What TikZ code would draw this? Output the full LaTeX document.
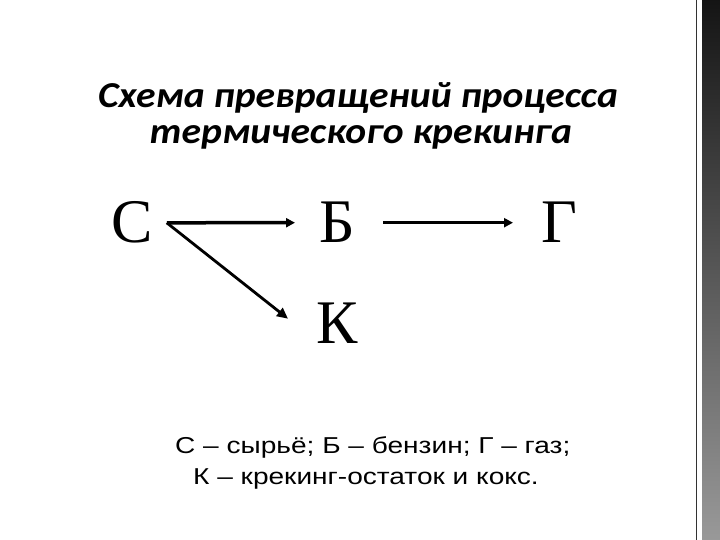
\documentclass[tikz,border=0pt]{standalone}
\usepackage{fontspec}
\setmainfont{Liberation Serif}
\newfontfamily\titlefont{Carlito}
\newfontfamily\legendfont{Liberation Sans}
\usetikzlibrary{arrows.meta}
\newcommand{\wideT}[1]{\scalebox{1.085}[1]{#1}}
\newcommand{\wideL}[1]{\scalebox{1.22}[1]{#1}}
\begin{document}
\begin{tikzpicture}[x=1pt,y=-1pt,
  letter/.style={inner sep=0pt,anchor=base west,font=\fontsize{62}{62}\selectfont},
  titletext/.style={inner sep=0pt,anchor=base,font=\titlefont\bfseries\itshape\fontsize{36.5}{36.5}\selectfont},
  legendtext/.style={inner sep=0pt,anchor=base west,font=\legendfont\fontsize{23}{23}\selectfont},
  arr/.style={line width=3.5pt,-{Triangle[length=9pt,width=9pt]}},
  darr/.style={line width=2.8pt,-{Triangle[length=11pt,width=10pt]}}]
\useasboundingbox (0,0) rectangle (720,540);
\fill[white] (0,0) rectangle (720,540);
% right decorative strip
\fill[black!80] (695.8,0) rectangle (697.4,540);
\shade[top color=black!92,bottom color=black!40] (702,0) rectangle (720,540);
% title
\node[titletext] (t1) at (358,108) {\wideT{Схема превращений процесса}};
\node[titletext] (t2) at (361,144) {\wideT{термического крекинга}};
% letters
\node[letter] (C) at (111,243) {С};
\node[letter] (B) at (319,243) {Б};
\node[letter] (G) at (541,243) {Г};
\node[letter] (K) at (316,343) {К};
% arrows
\draw[arr,shorten <=14pt,shorten >=24pt] (C) -- (B);
\draw[arr,shorten <=28pt,shorten >=28pt] (B) -- (G);
\draw[darr] ([xshift=14pt]C.east) -- ([xshift=-28pt,yshift=4pt]K.west);
% legend
\node[legendtext] (l1) at (175,453) {\wideL{С – сырьё; Б – бензин; Г – газ;}};
\node[legendtext] (l2) at (193,484) {\wideL{К – крекинг-остаток и кокс.}};
\end{tikzpicture}
\end{document}
